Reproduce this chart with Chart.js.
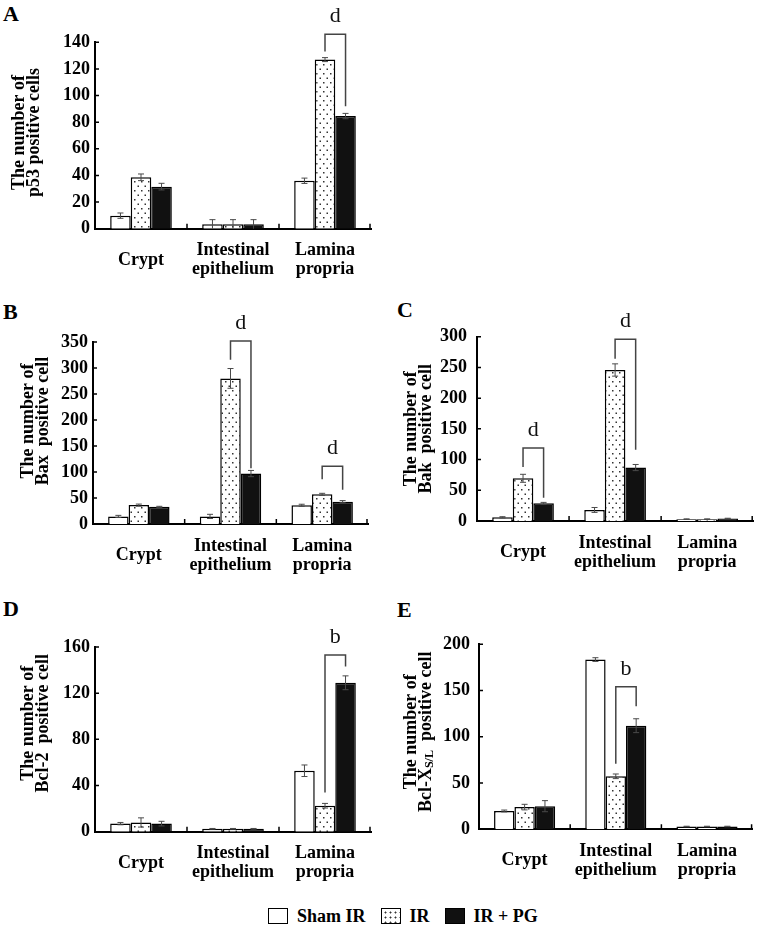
<!DOCTYPE html>
<html>
<head>
<meta charset="utf-8">
<script src="https://cdn.jsdelivr.net/npm/chart.js@4.4.1/dist/chart.umd.min.js"></script>
<style>
  body { margin: 0; background: #fff; width: 760px; height: 929px; position: relative; overflow: hidden;
         font-family: "Liberation Serif", "Times New Roman", serif; }
  canvas { position: absolute; }
  .tag { position: absolute; font-weight: bold; font-size: 22px; line-height: 22px; }
  .legend { position: absolute; left: 268px; top: 904px; height: 24px; display: flex; align-items: center;
            font-weight: bold; font-size: 18px; }
  .legend i { display: inline-block; width: 20px; height: 16px; box-sizing: border-box; border: 1.5px solid #000;
              margin-right: 9px; }
  .legend span { margin-right: 15px; }
  .legend .ir { background: radial-gradient(circle, #333 0 0.8px, transparent 1.2px) 1px 1px / 5px 5px, #fff; }
  .legend .pg { background: #111; }
</style>
</head>
<body>
<div class="tag" style="left:3px;top:3px">A</div>
<div class="tag" style="left:3px;top:301px">B</div>
<div class="tag" style="left:397px;top:299px">C</div>
<div class="tag" style="left:3px;top:598px">D</div>
<div class="tag" style="left:397px;top:599px">E</div>

<canvas id="chartA"></canvas>
<canvas id="chartB"></canvas>
<canvas id="chartC"></canvas>
<canvas id="chartD"></canvas>
<canvas id="chartE"></canvas>

<div class="legend">
  <i></i><span>Sham IR</span>
  <i class="ir"></i><span>IR</span>
  <i class="pg"></i><span>IR + PG</span>
</div>

<script>
const categories = [["Crypt"], ["Intestinal", "epithelium"], ["Lamina", "propria"]];
const seriesNames = ["Sham IR", "IR", "IR + PG"];

// A: p53
const p53Sham = [9.8, 3.3, 36];
const p53ShamErr = [2, 3.5, 2];
const p53IR = [38.6, 3.3, 127];
const p53IRErr = [2.5, 3.5, 1.5];
const p53PG = [31.6, 3.3, 84.6];
const p53PGErr = [2.5, 3.5, 2];
const p53Axis = [0, 140, 20];
const p53Brackets = [{ group: 2, top: 146, from: 133, to: 92, mark: "d" }];

// B: Bax
const baxSham = [14.6, 14.6, 36];
const baxShamErr = [2, 4, 2];
const baxIR = [36.3, 280, 57];
const baxIRErr = [2, 19, 2];
const baxPG = [33, 97, 43];
const baxPGErr = [1, 6, 2];
const baxAxis = [0, 350, 50];
const baxBrackets = [
  { group: 1, top: 352, from: 316, to: 107, mark: "d" },
  { group: 2, top: 111, from: 86, to: 66, mark: "d" }
];

// C: Bak
const bakSham = [6, 18, 3];
const bakShamErr = [1, 4, 0.5];
const bakIR = [69.5, 245.8, 3];
const bakIRErr = [6.5, 10, 0.5];
const bakPG = [28.8, 87, 4];
const bakPGErr = [1.5, 5, 0.5];
const bakAxis = [0, 300, 50];
const bakBrackets = [
  { group: 0, top: 119, from: 88, to: 38, mark: "d" },
  { group: 1, top: 296, from: 264, to: 116, mark: "d" }
];

// D: Bcl-2
const bcl2Sham = [7, 2.5, 52.8];
const bcl2ShamErr = [1, 0.3, 5];
const bcl2IR = [8, 2.5, 22.5];
const bcl2IRErr = [4, 0.3, 2];
const bcl2PG = [7, 2.5, 129];
const bcl2PGErr = [2, 0.3, 6];
const bcl2Axis = [0, 160, 40];
const bcl2Brackets = [{ group: 2, top: 153, from: 34, to: 143, mark: "b" }];

// E: Bcl-XS/L
const bclxSham = [19.8, 183.5, 3];
const bclxShamErr = [1, 2, 0.3];
const bclxIR = [24, 57.3, 3];
const bclxIRErr = [3, 2.5, 0.3];
const bclxPG = [25, 112, 3];
const bclxPGErr = [6, 7.5, 0.3];
const bclxAxis = [0, 200, 50];
const bclxBrackets = [{ group: 1, top: 154, from: 71, to: 133, mark: "b" }];

const serif = '"Liberation Serif", "Times New Roman", serif';

function makeDots(ctx) {
  const tile = document.createElement("canvas");
  tile.width = 7;
  tile.height = 9;
  const g = tile.getContext("2d");
  g.fillStyle = "#fff";
  g.fillRect(0, 0, 7, 9);
  g.fillStyle = "#333";
  g.fillRect(1, 1, 1.5, 1.5);
  g.fillRect(4.5, 5.5, 1.5, 1.5);
  return ctx.createPattern(tile, "repeat");
}

const errorBars = {
  id: "errorBars",
  afterDatasetsDraw(chart) {
    const { ctx } = chart;
    const y = chart.scales.y;
    ctx.save();
    ctx.strokeStyle = "#4a4a4a";
    ctx.lineWidth = 1;
    chart.data.datasets.forEach((ds, i) => {
      chart.getDatasetMeta(i).data.forEach((bar, j) => {
        const v = ds.data[j];
        const e = ds.errors[j];
        const hi = y.getPixelForValue(v + e);
        const lo = y.getPixelForValue(Math.max(0, v - e));
        ctx.beginPath();
        ctx.moveTo(bar.x, hi);
        ctx.lineTo(bar.x, lo);
        ctx.moveTo(bar.x - 3, hi);
        ctx.lineTo(bar.x + 3, hi);
        if (v - e > 0) {
          ctx.moveTo(bar.x - 3, lo);
          ctx.lineTo(bar.x + 3, lo);
        }
        ctx.stroke();
      });
    });
    ctx.restore();
  }
};

const brackets = {
  id: "brackets",
  afterDatasetsDraw(chart, args, opts) {
    const { ctx } = chart;
    const y = chart.scales.y;
    ctx.save();
    ctx.strokeStyle = "#444";
    ctx.lineWidth = 1.5;
    ctx.fillStyle = "#111";
    ctx.font = "22px " + serif;
    ctx.textAlign = "center";
    ctx.textBaseline = "middle";
    opts.items.forEach((b) => {
      const x1 = chart.getDatasetMeta(1).data[b.group].x;
      const x2 = chart.getDatasetMeta(2).data[b.group].x;
      const top = y.getPixelForValue(b.top);
      ctx.beginPath();
      ctx.moveTo(x1, y.getPixelForValue(b.from));
      ctx.lineTo(x1, top);
      ctx.lineTo(x2, top);
      ctx.lineTo(x2, y.getPixelForValue(b.to));
      ctx.stroke();
      ctx.fillText(b.mark, (x1 + x2) / 2, top - 18);
    });
    ctx.restore();
  }
};

// inward tick marks on both axes
const innerTicks = {
  id: "innerTicks",
  afterDraw(chart) {
    const { ctx, chartArea } = chart;
    const { x, y } = chart.scales;
    ctx.save();
    ctx.strokeStyle = "#000";
    ctx.lineWidth = 1.5;
    ctx.beginPath();
    y.ticks.forEach((t) => {
      const py = y.getPixelForValue(t.value);
      ctx.moveTo(chartArea.left, py);
      ctx.lineTo(chartArea.left + 4, py);
    });
    const n = categories.length;
    for (let i = 1; i <= n; i++) {
      const px = i < n
        ? (x.getPixelForValue(i - 1) + x.getPixelForValue(i)) / 2
        : chartArea.right - 1;
      ctx.moveTo(px, chartArea.bottom);
      ctx.lineTo(px, chartArea.bottom - 5);
    }
    ctx.stroke();
    ctx.restore();
  }
};

// rotated two-line y title, with optional subscript segments
const axisTitle = {
  id: "axisTitle",
  afterDraw(chart, args, opts) {
    const { ctx, chartArea } = chart;
    const big = "bold 18px " + serif;
    const small = "bold 12px " + serif;
    ctx.save();
    ctx.translate(chartArea.left - opts.gap, (chartArea.top + chartArea.bottom) / 2 + opts.shift);
    ctx.rotate(-Math.PI / 2);
    ctx.fillStyle = "#000";
    ctx.textBaseline = "middle";
    ctx.textAlign = "left";
    opts.lines.forEach((segs, i) => {
      let total = 0;
      segs.forEach((s) => {
        ctx.font = s[1] ? small : big;
        total += ctx.measureText(s[0]).width;
      });
      let cx = -total / 2;
      segs.forEach((s) => {
        ctx.font = s[1] ? small : big;
        ctx.fillText(s[0], cx, i * 15 + (s[1] ? 4 : 0));
        cx += ctx.measureText(s[0]).width;
      });
    });
    ctx.restore();
  }
};

function drawPanel(id, values, errors, axis, title, marks, layout) {
  const { box, plot } = layout;
  const canvas = document.getElementById(id);
  canvas.width = box.w;
  canvas.height = box.h;
  canvas.style.left = box.x + "px";
  canvas.style.top = box.y + "px";
  const dots = makeDots(canvas.getContext("2d"));
  const fills = ["#fff", dots, "#111"];

  new Chart(canvas, {
    type: "bar",
    data: {
      labels: categories,
      datasets: values.map((data, i) => ({
        label: seriesNames[i],
        data,
        errors: errors[i],
        backgroundColor: fills[i],
        borderColor: "#000",
        borderWidth: 1.5,
        borderSkipped: "start",
        categoryPercentage: 0.67,
        barPercentage: 1
      }))
    },
    options: {
      responsive: false,
      animation: false,
      layout: {
        padding: {
          top: plot.t - box.y,
          right: box.x + box.w - plot.r,
          bottom: 0,
          left: 0
        }
      },
      plugins: {
        legend: { display: false },
        tooltip: { enabled: false },
        brackets: { items: marks },
        axisTitle: { lines: title, gap: layout.gap, shift: layout.shift }
      },
      scales: {
        x: {
          grid: { display: false, drawTicks: false },
          border: { color: "#000", width: 2 },
          ticks: {
            color: "#000",
            padding: 22,
            crossAlign: "center",
            maxRotation: 0,
            autoSkip: false,
            font: { family: serif, size: 18, weight: "bold", lineHeight: 1.05 }
          },
          afterFit(scale) {
            scale.height = box.y + box.h - plot.b;
          }
        },
        y: {
          min: axis[0],
          max: axis[1],
          grid: { display: false, drawTicks: false },
          border: { color: "#000", width: 2 },
          ticks: {
            stepSize: axis[2],
            color: "#000",
            padding: layout.pad,
            font: { family: serif, size: 18, weight: "bold" }
          },
          afterFit(scale) {
            scale.width = plot.l - box.x;
          }
        }
      }
    },
    plugins: [errorBars, brackets, innerTicks, axisTitle]
  });
}

drawPanel("chartA", [p53Sham, p53IR, p53PG], [p53ShamErr, p53IRErr, p53PGErr], p53Axis,
  [[["The number of"]], [["p53 positive cells"]]], p53Brackets,
  { box: { x: 0, y: 0, w: 380, h: 290 }, plot: { l: 95, t: 42.3, r: 371, b: 228.7 }, pad: 5, gap: 76, shift: -3 });

drawPanel("chartB", [baxSham, baxIR, baxPG], [baxShamErr, baxIRErr, baxPGErr], baxAxis,
  [[["The number of"]], [["Bax  positive cell"]]], baxBrackets,
  { box: { x: 0, y: 290, w: 380, h: 290 }, plot: { l: 93, t: 342, r: 368, b: 524 }, pad: 5, gap: 65, shift: -12 });

drawPanel("chartC", [bakSham, bakIR, bakPG], [bakShamErr, bakIRErr, bakPGErr], bakAxis,
  [[["The number of"]], [["Bak  positive cell"]]], bakBrackets,
  { box: { x: 380, y: 290, w: 380, h: 290 }, plot: { l: 477, t: 336.7, r: 755, b: 521 }, pad: 10, gap: 66, shift: 0 });

drawPanel("chartD", [bcl2Sham, bcl2IR, bcl2PG], [bcl2ShamErr, bcl2IRErr, bcl2PGErr], bcl2Axis,
  [[["The number of"]], [["Bcl-2  positive cell"]]], bcl2Brackets,
  { box: { x: 0, y: 582, w: 380, h: 318 }, plot: { l: 95, t: 647, r: 371, b: 831.7 }, pad: 5, gap: 67, shift: -16 });

drawPanel("chartE", [bclxSham, bclxIR, bclxPG], [bclxShamErr, bclxIRErr, bclxPGErr], bclxAxis,
  [[["The number of"]], [["Bcl-X"], ["S/L", true], ["  positive cell"]]], bclxBrackets,
  { box: { x: 380, y: 582, w: 380, h: 318 }, plot: { l: 479, t: 644.3, r: 754, b: 829.3 }, pad: 9, gap: 68, shift: -5 });
</script>
</body>
</html>
